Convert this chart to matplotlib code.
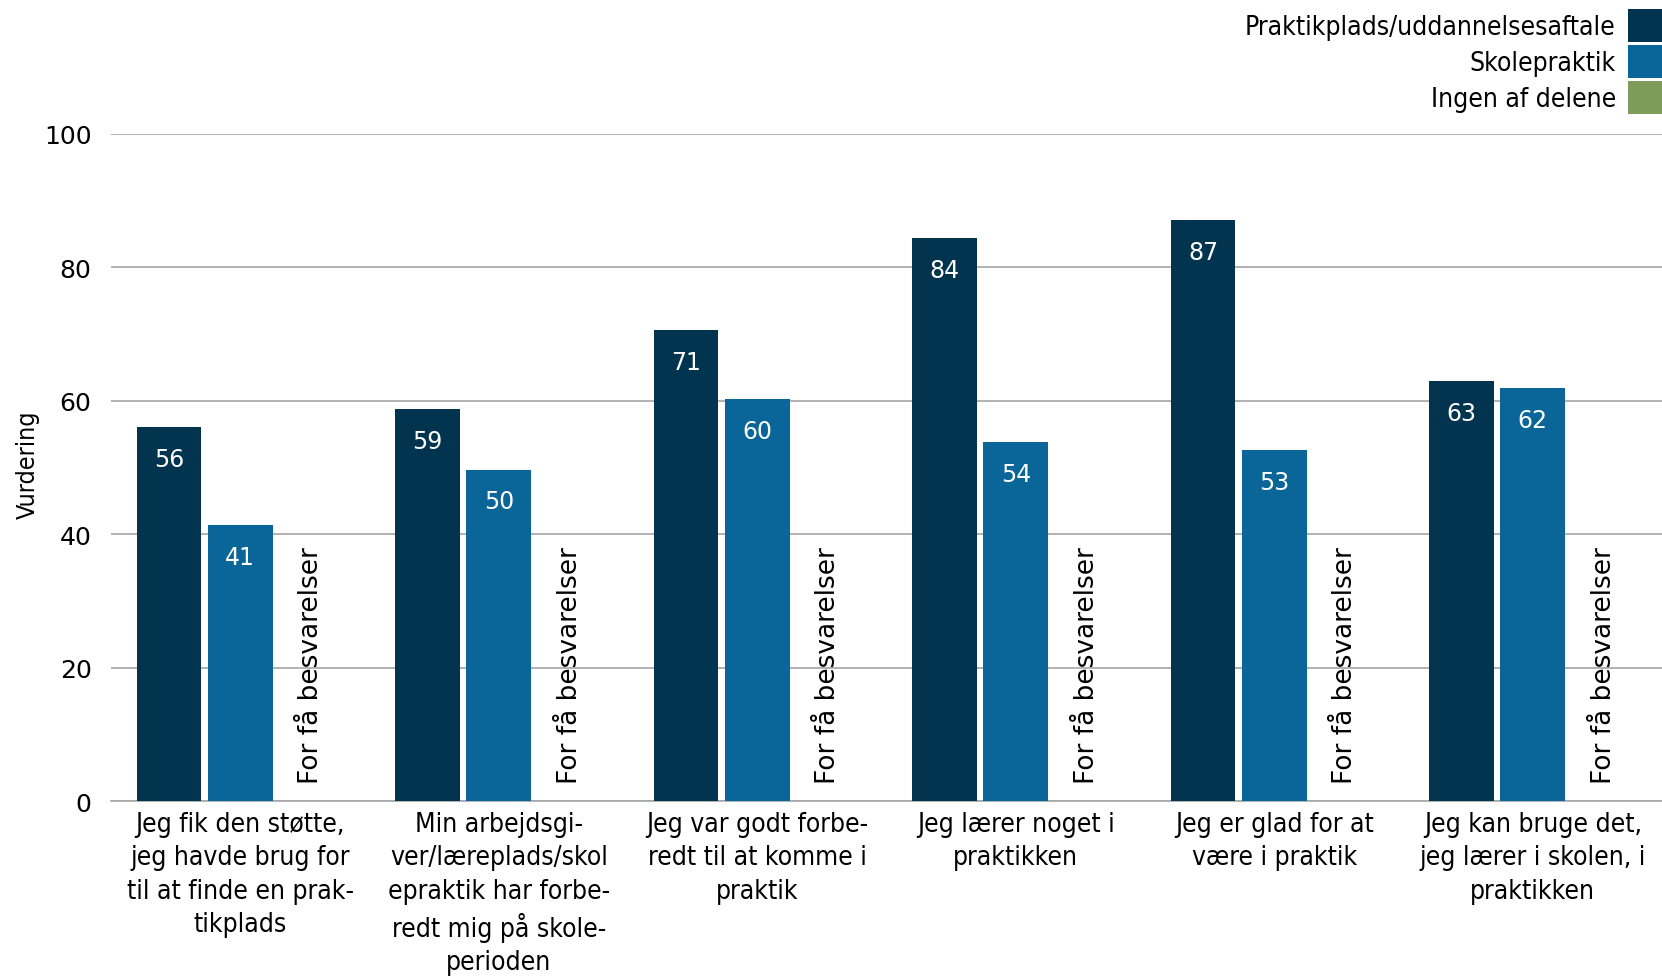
import numpy as np
import matplotlib.pyplot as plt
from matplotlib.patches import Patch

# Data
categories = [
    'Jeg fik den støtte,\njeg havde brug for\ntil at finde en prak-\ntikplads',
    'Min arbejdsgi-\nver/læreplads/skol\nepraktik har forbe-\nredt mig på skole-\nperioden',
    'Jeg var godt forbe-\nredt til at komme i\npraktik',
    'Jeg lærer noget i\npraktikken',
    'Jeg er glad for at\nvære i praktik',
    'Jeg kan bruge det,\njeg lærer i skolen, i\npraktikken',
]
series_names = ['Praktikplads/uddannelsesaftale', 'Skolepraktik', 'Ingen af delene']
praktikplads = [56.0, 58.7, 70.6, 84.3, 87.0, 63.0]
skolepraktik = [41.4, 49.7, 60.2, 53.8, 52.6, 61.9]
ingen_note = 'For få besvarelser'
yticks = [0, 20, 40, 60, 80, 100]

DARK = '#02344f'
LIGHT = '#0a6598'
GREEN = '#7f9b5b'
GRID = '#a6a6a6'

plt.rcParams['font.family'] = 'DejaVu Sans'

fig = plt.figure(figsize=(16.62, 9.78), dpi=100)
ax = fig.add_axes([0.0668, 0.1795, 0.9332, 0.6829])

x = np.arange(len(categories))
w = 0.25
off = 0.275
b1 = ax.bar(x - off, praktikplads, width=w, color=DARK, zorder=3)
b2 = ax.bar(x, skolepraktik, width=w, color=LIGHT, zorder=3)

# Value labels inside bar tops
for bars in (b1, b2):
    for rect in bars:
        h = rect.get_height()
        ax.annotate('%d' % int(h + 0.5), xy=(rect.get_x() + rect.get_width() / 2, h),
                    xytext=(0, -23), textcoords='offset points', ha='center', va='center',
                    color='white', fontsize=17, zorder=4)

# Third series: too few answers
for xi in x:
    ax.annotate(ingen_note, xy=(xi + off, 0), xytext=(0, 13), textcoords='offset points',
                rotation=90, ha='center', va='bottom', fontsize=19, color='black')

ax.set_xlim(-0.5, len(categories) - 0.5)
ax.set_ylim(0, 100)
ax.set_yticks(yticks)
ax.set_xticks(x)
ax.set_xticklabels(categories, fontsize=19, fontstretch='condensed', linespacing=1.36)
ax.tick_params(axis='y', length=0, pad=14, labelsize=18)
ax.tick_params(axis='x', length=0, pad=7)

for s in ['top', 'right', 'left']:
    ax.spines[s].set_visible(False)
ax.spines['bottom'].set_color(GRID)
ax.spines['bottom'].set_linewidth(1.2)
ax.yaxis.grid(True, color=GRID, linewidth=1.2)
ax.set_axisbelow(True)

ax.set_ylabel('Vurdering', fontsize=18, fontstretch='condensed')
ax.yaxis.set_label_coords(-0.046, 0.505)

# Legend with squares on the right
handles = [Patch(facecolor=c, edgecolor='none') for c in (DARK, LIGHT, GREEN)]
lgd = fig.legend(handles, series_names, loc='upper right', bbox_to_anchor=(1.0, 0.99),
                 frameon=False, markerfirst=False, handlelength=1.3,
                 prop={'size': 19, 'stretch': 'condensed'},
                 handleheight=1.55, handletextpad=0.45, labelspacing=0.12,
                 borderpad=0.0, borderaxespad=0.0)

fig.savefig('out.png', dpi=100)
